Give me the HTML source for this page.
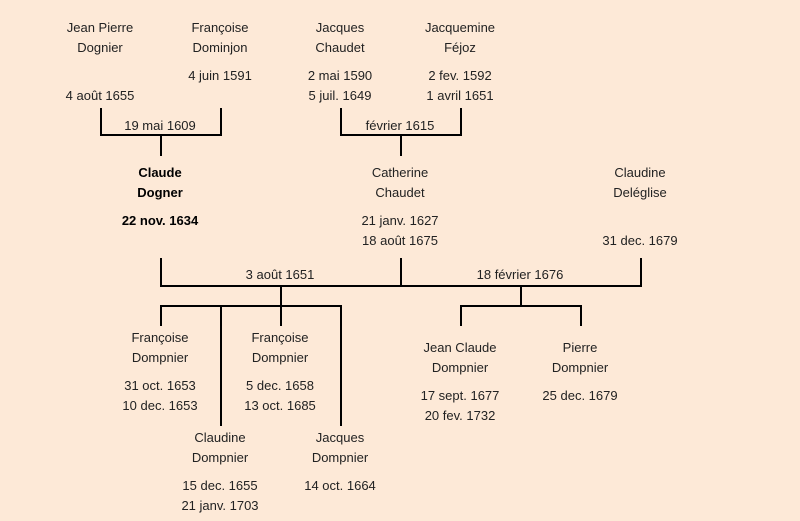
<!DOCTYPE html>
<html><head><meta charset="utf-8"><style>
html,body{margin:0;padding:0;background:#fde9d7;}
svg{display:block;}
text{font-family:"Liberation Sans",sans-serif;font-size:13px;fill:#222;text-anchor:middle;}
.b{font-weight:bold;fill:#000;}
</style></head><body>
<svg width="800" height="521" viewBox="0 0 800 521">
<rect width="800" height="521" fill="#fde9d7"/>
<g stroke="#000" stroke-width="2" fill="none">
<path d="M101 108V135H221V108M161 135V156"/>
<path d="M341 108V135H461V108M401 135V156"/>
<path d="M161 258V286H641V258M401 258V286"/>
<path d="M281 286V306M161 326V306H341V426M221 306V426M281 306V326"/>
<path d="M521 286V306M461 326V306H581V326"/>
</g>
<text x="100" y="32">Jean Pierre</text><text x="100" y="52">Dognier</text><text x="100" y="100">4 août 1655</text>
<text x="220" y="32">Françoise</text><text x="220" y="52">Dominjon</text><text x="220" y="80">4 juin 1591</text>
<text x="340" y="32">Jacques</text><text x="340" y="52">Chaudet</text><text x="340" y="80">2 mai 1590</text><text x="340" y="100">5 juil. 1649</text>
<text x="460" y="32">Jacquemine</text><text x="460" y="52">Féjoz</text><text x="460" y="80">2 fev. 1592</text><text x="460" y="100">1 avril 1651</text>
<text x="160" y="130">19 mai 1609</text><text x="400" y="130">février 1615</text>
<text class="b" x="160" y="177">Claude</text><text class="b" x="160" y="197">Dogner</text><text class="b" x="160" y="225">22 nov. 1634</text>
<text x="400" y="177">Catherine</text><text x="400" y="197">Chaudet</text><text x="400" y="225">21 janv. 1627</text><text x="400" y="245">18 août 1675</text>
<text x="640" y="177">Claudine</text><text x="640" y="197">Deléglise</text><text x="640" y="245">31 dec. 1679</text>
<text x="280" y="279">3 août 1651</text><text x="520" y="279">18 février 1676</text>
<text x="160" y="342">Françoise</text><text x="160" y="362">Dompnier</text><text x="160" y="390">31 oct. 1653</text><text x="160" y="410">10 dec. 1653</text>
<text x="280" y="342">Françoise</text><text x="280" y="362">Dompnier</text><text x="280" y="390">5 dec. 1658</text><text x="280" y="410">13 oct. 1685</text>
<text x="220" y="442">Claudine</text><text x="220" y="462">Dompnier</text><text x="220" y="490">15 dec. 1655</text><text x="220" y="510">21 janv. 1703</text>
<text x="340" y="442">Jacques</text><text x="340" y="462">Dompnier</text><text x="340" y="490">14 oct. 1664</text>
<text x="460" y="352">Jean Claude</text><text x="460" y="372">Dompnier</text><text x="460" y="400">17 sept. 1677</text><text x="460" y="420">20 fev. 1732</text>
<text x="580" y="352">Pierre</text><text x="580" y="372">Dompnier</text><text x="580" y="400">25 dec. 1679</text>
</svg>
</body></html>
